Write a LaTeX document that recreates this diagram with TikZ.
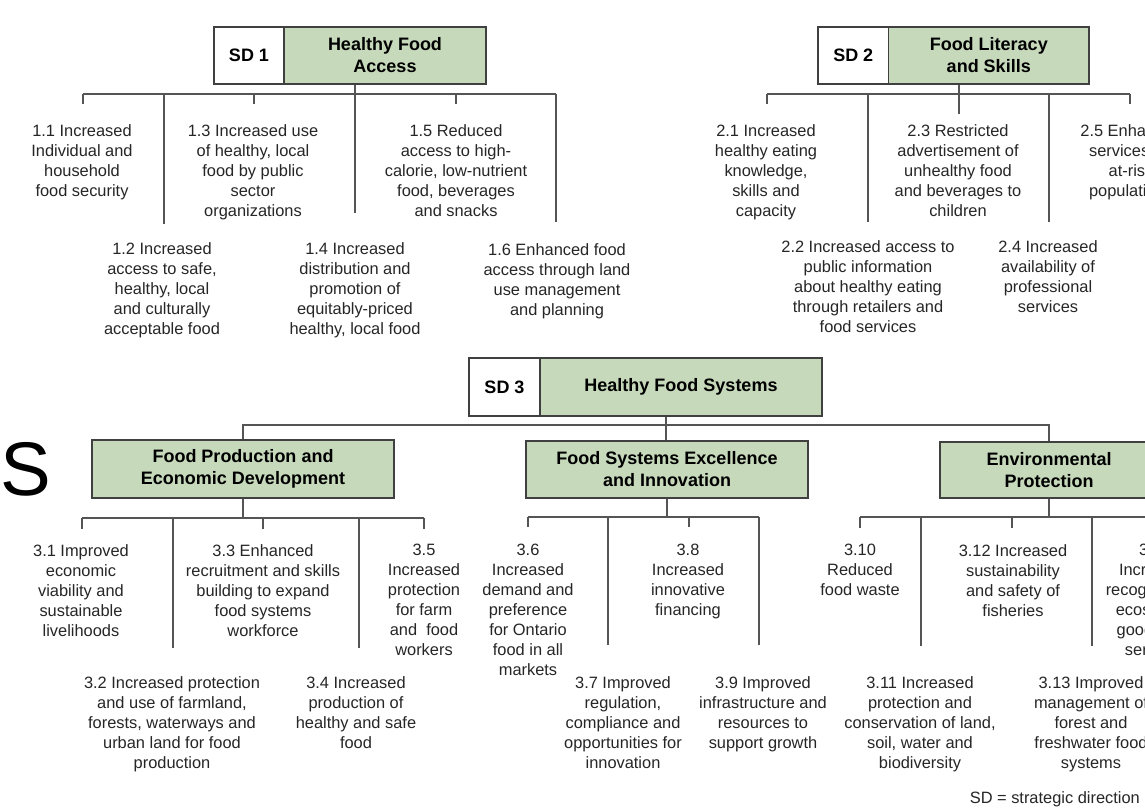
\documentclass[tikz,border=0pt]{standalone}
\usepackage{fontspec}
\setmainfont{Liberation Sans}
\usetikzlibrary{calc}
\definecolor{boxgreen}{RGB}{198,217,187}
\definecolor{boxline}{RGB}{64,64,64}
\definecolor{wirecol}{RGB}{85,85,85}
\definecolor{bodytext}{RGB}{38,38,38}
\tikzset{
  hdrfont/.style={font=\fontsize{18}{22}\selectfont\bfseries},
  codebox/.style={draw=boxline, line width=1.3pt, fill=white, inner sep=0pt, hdrfont, align=center},
  titlebox/.style={codebox, fill=boxgreen},
  outcome/.style={font=\fontsize{16.4}{20}\selectfont, text=bodytext, align=center, inner sep=0pt, anchor=north},
  link/.style={draw=wirecol, line width=1.1pt},
}
\begin{document}
\begin{tikzpicture}[x=1pt,y=-1pt]
\useasboundingbox (0,0) rectangle (1145,809);
\clip (0,0) rectangle (1145,809);
\fill[white] (0,0) rectangle (1145,809);

% ---------- Strategic direction 1 ----------
\node[codebox, minimum width=70pt, minimum height=57pt] (sd1) at (249,55.5) {SD 1};
\node[titlebox, minimum width=202pt, minimum height=57pt] (sd1t) at (385,55.5) {Healthy Food\\Access};

\coordinate (bar1) at (0,94);
\coordinate (e11) at (83,104);  \coordinate (e12) at (164,224);
\coordinate (e13) at (254,104); \coordinate (e14) at (355,213);
\coordinate (e15) at (456,104); \coordinate (e16) at (556,222);
\draw[link] (e11 |- bar1) -- (e16 |- bar1);
\draw[link] (sd1t.south -| e14) -- (e14);
\foreach \e in {e11,e12,e13,e15,e16} \draw[link] (\e |- bar1) -- (\e);

\node[outcome] (o11) at (82,124) {1.1 Increased\\Individual and\\household\\food security};
\node[outcome] (o13) at (253,124) {1.3 Increased use\\of healthy, local\\food by public\\sector\\organizations};
\node[outcome] (o15) at (456,124) {1.5 Reduced\\access to high-\\calorie, low-nutrient\\food, beverages\\and snacks};
\node[outcome] (o12) at (162,242) {1.2 Increased\\access to safe,\\healthy, local\\and culturally\\acceptable food};
\node[outcome] (o14) at (355,242) {1.4 Increased\\distribution and\\promotion of\\equitably-priced\\healthy, local food};
\node[outcome] (o16) at (557,243) {1.6 Enhanced food\\access through land\\use management\\and planning};

% ---------- Strategic direction 2 ----------
\node[codebox, minimum width=70.5pt, minimum height=57pt] (sd2) at (853.25,55.5) {SD 2};
\node[titlebox, minimum width=200.5pt, minimum height=57pt] (sd2t) at (988.75,55.5) {Food Literacy\\and Skills};

\coordinate (bar2) at (0,94);
\coordinate (e21) at (767,104);  \coordinate (e22) at (868,222);
\coordinate (e23) at (959,114);  \coordinate (e24) at (1049,222);
\coordinate (e25) at (1130,104);
\draw[link] (e21 |- bar2) -- (e25 |- bar2);
\draw[link] (sd2t.south -| e23) -- (e23);
\foreach \e in {e21,e22,e24,e25} \draw[link] (\e |- bar2) -- (\e);

\node[outcome] (o21) at (766,124) {2.1 Increased\\healthy eating\\knowledge,\\skills and\\capacity};
\node[outcome] (o23) at (958,124) {2.3 Restricted\\advertisement of\\unhealthy food\\and beverages to\\children};
\node[outcome] (o25) at (1131,124) {2.5 Enhanced\\services for\\at-risk\\populations};
\node[outcome] (o22) at (868,240) {2.2 Increased access to\\public information\\about healthy eating\\through retailers and\\food services};
\node[outcome] (o24) at (1048,240) {2.4 Increased\\availability of\\professional\\services};

% ---------- Strategic direction 3 ----------
\node[codebox, minimum width=71pt, minimum height=58pt] (sd3) at (504.5,387) {SD 3};
\node[titlebox, minimum width=282pt, minimum height=58pt] (sd3t) at (681,387) {Healthy Food Systems};

\node[titlebox, minimum width=302pt, minimum height=58pt] (fped) at (243,469) {Food Production and\\Economic Development};
\node[titlebox, minimum width=282pt, minimum height=57pt] (fse) at (667,469.5) {Food Systems Excellence\\and Innovation};
\node[titlebox, minimum width=218pt, minimum height=56pt] (ep) at (1049,470) {Environmental\\Protection};

\node[font=\fontsize{76}{76}\selectfont, inner sep=0pt] (bigs) at (26,469) {S};

\coordinate (bar3) at (0,425);
\coordinate (s3) at (666,0);
\draw[link] (sd3t.south -| s3) -- (fse.north -| s3);
\draw[link] (fped.north) -- (fped.north |- bar3) -- (ep.north |- bar3) -- (ep.north);

% food production and economic development
\coordinate (barA) at (0,518);
\coordinate (a1) at (82,529);  \coordinate (a2) at (173,648);
\coordinate (a3) at (263,529); \coordinate (a4) at (359,648);
\coordinate (a5) at (424,529);
\draw[link] (fped.south) -- (fped.south |- barA);
\draw[link] (a1 |- barA) -- (a5 |- barA);
\foreach \e in {a1,a2,a3,a4,a5} \draw[link] (\e |- barA) -- (\e);

% food systems excellence and innovation
\coordinate (barB) at (0,517);
\coordinate (b6) at (528,527); \coordinate (b7) at (608,645);
\coordinate (b8) at (689,527); \coordinate (b9) at (759,645);
\draw[link] (fse.south) -- (fse.south |- barB);
\draw[link] (b6 |- barB) -- (b9 |- barB);
\foreach \e in {b6,b7,b8,b9} \draw[link] (\e |- barB) -- (\e);

% environmental protection
\coordinate (barC) at (0,517);
\coordinate (c10) at (860,528); \coordinate (c11) at (921,646);
\coordinate (c12) at (1012,528); \coordinate (c13) at (1092,646);
\coordinate (c14) at (1156,528);
\draw[link] (ep.south) -- (ep.south |- barC);
\draw[link] (c10 |- barC) -- (c14 |- barC);
\foreach \e in {c10,c11,c12,c13,c14} \draw[link] (\e |- barC) -- (\e);

\node[outcome] (o31) at (81,544) {3.1 Improved\\economic\\viability and\\sustainable\\livelihoods};
\node[outcome] (o33) at (263,544) {3.3 Enhanced\\recruitment and skills\\building to expand\\food systems\\workforce};
\node[outcome] (o35) at (424,544) {3.5\\Increased\\protection\\for farm\\and\ \ food\\workers};
\node[outcome] (o36) at (528,544) {3.6\\Increased\\demand and\\preference\\for Ontario\\food in all\\markets};
\node[outcome] (o38) at (688,544) {3.8\\Increased\\innovative\\financing};
\node[outcome] (o310) at (860,544) {3.10\\Reduced\\food waste};
\node[outcome] (o312) at (1013,544) {3.12 Increased\\sustainability\\and safety of\\fisheries};
\node[outcome] (o314) at (1155,544) {3.14\\Increased\\recognition of\\ecosystem\\goods and\\services};

\node[outcome] (o32) at (172,676) {3.2 Increased protection\\and use of farmland,\\forests, waterways and\\urban land for food\\production};
\node[outcome] (o34) at (356,676) {3.4 Increased\\production of\\healthy and safe\\food};
\node[outcome] (o37) at (623,676) {3.7 Improved\\regulation,\\compliance and\\opportunities for\\innovation};
\node[outcome] (o39) at (763,676) {3.9 Improved\\infrastructure and\\resources to\\support growth};
\node[outcome] (o311) at (920,676) {3.11 Increased\\protection and\\conservation of land,\\soil, water and\\biodiversity};
\node[outcome] (o313) at (1091,676) {3.13 Improved\\management of\\forest and\\freshwater food\\systems};

\node[outcome, anchor=north east] (legend) at (1140,791) {SD = strategic direction};
\end{tikzpicture}
\end{document}
